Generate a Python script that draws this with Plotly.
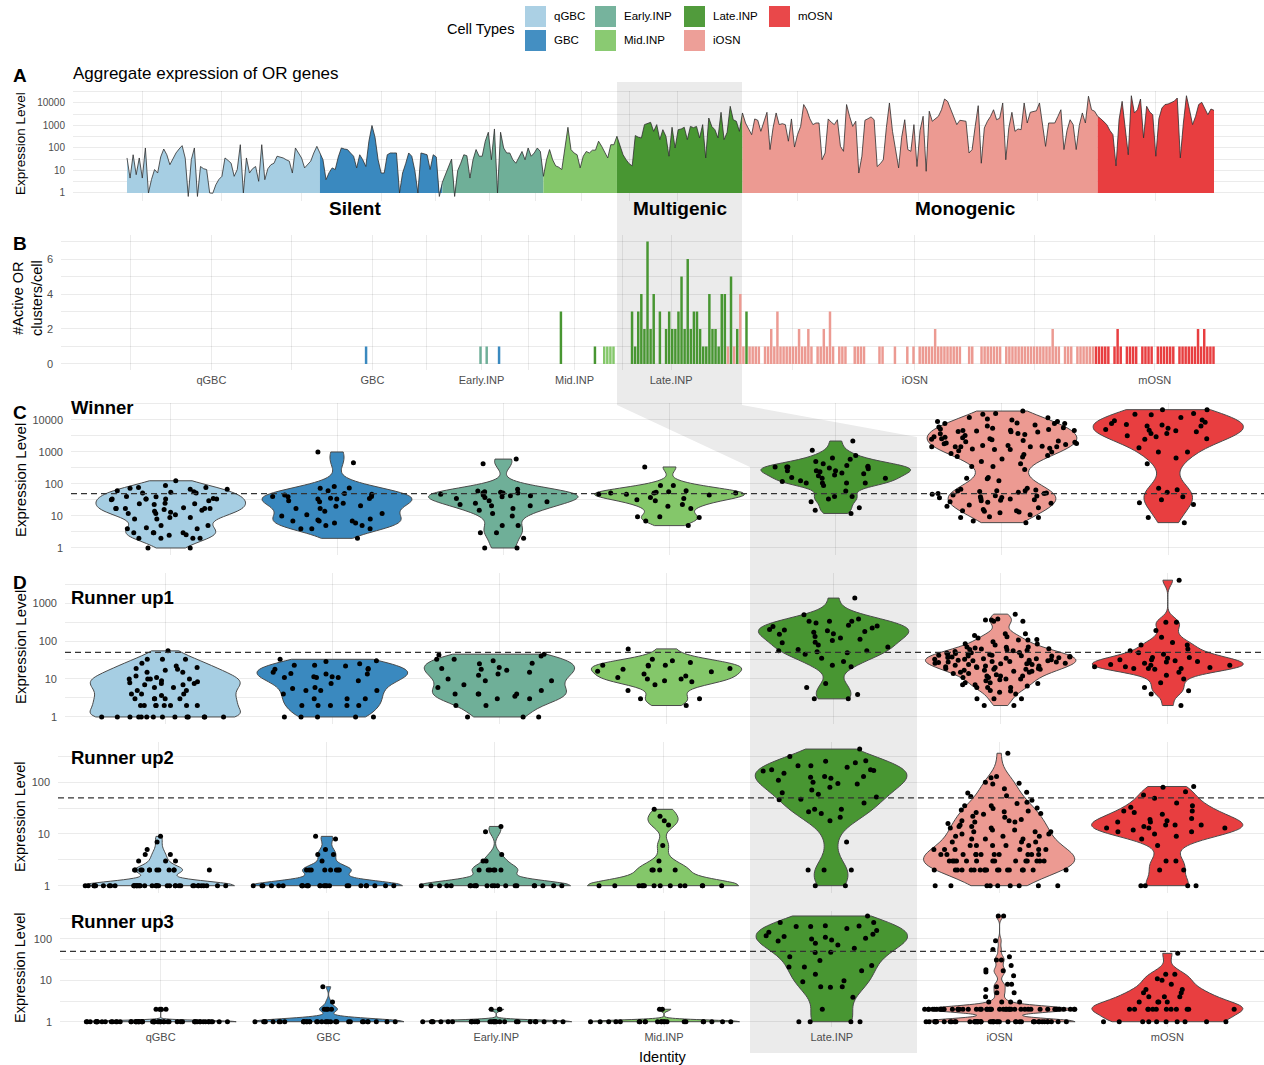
import numpy as np
import plotly.graph_objects as go

W, H = 1264, 1065
FONT = "Liberation Sans, Arial, Helvetica, sans-serif"
GRID = "rgba(0,0,0,0.08)"
TICK_GRAY = "#4D4D4D"
OUTLINE = "#4A4A4A"

CELL_TYPES = ["qGBC", "GBC", "Early.INP", "Mid.INP", "Late.INP", "iOSN", "mOSN"]
TYPE_COLORS = {
    "qGBC": "#A6CEE3", "GBC": "#3A89BF", "Early.INP": "#6FAF98", "Mid.INP": "#84C76A",
    "Late.INP": "#489632", "iOSN": "#EC9A92", "mOSN": "#E83E40",
}
THRESHOLD = 50

# ---------------- Panel A: aggregate OR expression per cell ----------------
agg_qgbc = [36, 4.6, 50, 6.5, 36, 4.6, 100, 1, 4, 11, 7.7, 40, 90, 50, 18, 35, 60, 90, 127, 36,
            0.7, 30, 100, 0.7, 15, 12, 11, 1, 0.97, 2.3, 4, 5.5, 36, 28, 21, 5.5, 11, 140, 1, 36,
            7.7, 12, 15, 3.3, 140, 3.9, 12, 18, 21, 43, 40, 36, 30, 26, 7.7, 100, 60, 36, 13, 18,
            26, 60, 118]
agg_gbc = [60, 30, 3.9, 8, 13, 11, 40, 100, 90, 85, 60, 43, 13, 50, 30, 15, 200, 1000, 300, 30,
           7.7, 7.7, 50, 60, 60, 60, 1, 7.7, 20, 60, 43, 10, 1, 60, 55, 50, 11, 50, 40, 0.7]
agg_early = [3, 6.5, 15, 32, 0.7, 10, 21, 50, 45, 4.6, 30, 85, 43, 43, 200, 500, 30, 700, 1, 500,
             100, 60, 60, 30, 21, 36, 70, 30, 100, 43, 60, 100, 70]
agg_mid = [5.5, 30, 85, 30, 16, 14, 11, 100, 830, 85, 60, 50, 13, 43, 70, 60, 80, 80, 200, 120,
           70, 36, 140, 140]
agg_late = [330, 120, 50, 30, 20, 16, 355, 300, 280, 1090, 1200, 1380, 550, 1090, 235, 650, 330, 43,
            830, 100, 650, 700, 830, 235, 910, 800, 910, 280, 1090, 36, 2150, 900, 650, 280, 3850,
            235, 500, 7100, 1800, 1540, 550]
agg_iosn = [3600, 1290, 700, 390, 1950, 1700, 550, 1500, 3850, 85,
            800, 3600, 1090, 1200, 1090, 200, 1950, 110, 400, 910,
            8500, 5000, 2000, 1090, 1290, 1290, 30, 60, 1950, 1400,
            1090, 1800, 118, 71, 8500, 2500, 910, 1540, 7.7, 43,
            1700, 2000, 2400, 1800, 15, 20, 30, 800, 10000, 550,
            80, 13, 300, 1800, 85, 71, 1090, 15, 600, 2560,
            9.2, 4300, 1540, 2000, 2560, 5000, 15000, 11800, 5000, 2560,
            1090, 1700, 1600, 1540, 60, 85, 900, 7600, 21, 780,
            1540, 2500, 5000, 1800, 2100, 10000, 30, 800, 3850, 550,
            700, 650, 10000, 1290, 3850, 4300, 4500, 10000, 800, 118,
            1290, 1290, 1290, 2500, 5000, 85, 600, 1800, 1090, 85,
            1000, 3600, 1290, 20000, 5000, 4300]
agg_mosn = [2560, 2000, 1540, 1090, 600, 390, 16, 1830, 11800, 800, 50, 21000, 3600, 5000, 15000,
            280, 7100, 4000, 3000, 43, 2000, 6000, 8500, 9000, 10000, 12000, 16600, 36, 1290, 21000,
            5000, 1090, 2560, 8500, 10700, 6000, 3000, 5400, 4700]

# ---------------- Panel B: active OR clusters per cell (trajectory order) ----------------
# each run: (cell type, one digit per cell = number of active clusters)
iosn_clusters = "".join([
    "1111", "0", "11", "2", "1", "3", "111111", "2", "11", "2", "1", "0", "11", "2", "1", "3",
    "1", "0", "111", "00", "1111", "0000", "11", "000", "1", "000", "1", "0", "1", "0", "1",
    "1111211111111", "00", "11", "00", "1111111", "0", "111111111111111211", "0", "111", "0",
    "111111",
])
cluster_runs = [
    ("qGBC", "000000000000000000000000000000000000000000000000000000000000000"),
    ("GBC", "000000000000000000100000000000000000000"),
    ("Early.INP", "0000000000000000101000"),
    ("GBC", "1"),
    ("Early.INP", "00000000000"),
    ("Mid.INP", "00000000"),
    ("Late.INP", "3"),
    ("Mid.INP", "0000000000"),
    ("Late.INP", "1"),
    ("Mid.INP", "001111"),
    ("Late.INP", "000003134272403023223526233211422144"),
    ("iOSN", "1"),
    ("Late.INP", "5"),
    ("iOSN", "1"),
    ("Late.INP", "2"),
    ("iOSN", "41"),
    ("Late.INP", "3"),
    ("iOSN", iosn_clusters),
    ("mOSN", "111110121011110111101111110111111212111"),
]

# ---------------- Panels C/D: winner and runner-up OR expression per cell ----------------
winner_qgbc = [52, 24, 13, 4.3, 3, 5, 32, 34, 35, 24, 17, 17, 2, 17, 89, 41, 55, 40, 5, 69,
               78, 62, 34, 1, 15, 9, 8, 16, 18, 17, 2, 73, 23, 34, 4, 34, 12, 126, 11, 17,
               30, 57, 8, 9, 52, 34, 2, 2.5, 78, 25, 14, 12, 2.6, 3, 4, 2, 69, 3, 3, 1]
winner_gbc = [1000, 75, 83, 36, 8, 5, 5, 41, 17, 4, 41, 35, 48, 62, 2, 7, 7, 12, 6, 17,
              6, 34, 28, 30, 7, 11, 21, 7.5, 4, 45, 73, 460, 4, 34, 10, 14, 25, 40, 50, 20]
winner_early = [430, 600, 69, 55, 43, 35, 21, 28, 5, 3, 12, 1, 1, 57, 52, 23, 25, 38, 5, 3,
                43, 21, 2, 52, 52, 17, 30, 45, 10, 40, 15, 48, 60]
winner_mid = [23, 30, 17, 9, 52, 55, 32, 57, 48, 5, 38, 7, 89, 9.5, 62, 89, 9.5, 48, 52, 340,
              52, 35, 45, 20]
winner_late = [2200, 1130, 590, 430, 340, 210, 190, 126, 150, 160, 260, 380, 260, 220, 107, 107,
               780, 340, 340, 650, 360, 150, 107, 340, 260, 315, 107, 41, 18, 12, 34, 28, 41, 89,
               500, 240, 180, 300, 120, 60, 15]
winner_iosn = [19000, 16000, 11700, 10000, 7800, 10700, 8900, 5700, 7800, 7800,
               4800, 4300, 5500, 5000, 4700, 4500, 4200, 4700, 3800, 2600,
               2600, 2300, 2200, 1830, 1450, 1450, 1450, 1450, 1200, 1600,
               1600, 1450, 1200, 1000, 3000, 3500, 2800, 2000, 1800, 6000,
               9000, 12000, 15000, 3300, 2400, 1300, 1100, 2100, 1700, 6500,
               8000, 5200, 3700, 2900, 2500, 1900, 1500, 1250, 4400, 7000,
               700, 780, 830, 720, 500, 430, 350, 350, 285, 160,
               150, 126, 145, 900, 600, 73, 62, 62, 43, 50,
               52, 69, 60, 30, 48, 31, 38, 34, 32, 14.5,
               6.2, 14.5, 18, 12.7, 13.4, 8.9, 9.5, 14, 40, 55,
               25, 20, 9, 7, 45, 65, 35, 28, 22, 16,
               11, 50, 58, 42, 37, 27]
winner_mosn = [16000, 14500, 21000, 21000, 9500, 6500, 10000, 7800, 6500, 5500, 3800, 4600, 2600,
               4300, 4800, 7000, 7200, 3000, 3800, 2500, 1350, 1000, 1000, 650, 430, 73, 66, 32,
               26, 23, 6.2, 40, 12000, 8500, 15000, 5000, 3200, 55, 9]

runner1_qgbc = [55, 26, 22, 15, 19, 10, 2, 2, 3, 1, 1, 1, 1, 1, 1, 1, 1, 1, 1, 1,
                6, 8.5, 2, 2, 20, 2, 4, 7, 4, 17, 15, 10, 7.6, 33, 11, 10, 10, 6, 9, 7,
                7.6, 33, 4, 3, 3, 18, 5, 3.7, 3, 2, 2, 33, 1, 1, 12, 5, 3, 1, 2, 8]
runner1_gbc = [29, 23, 13.5, 5, 2, 1, 11.5, 11, 2, 11.5, 11, 7.6, 5.6, 2, 1, 33, 18, 15, 3, 3,
               23, 13.5, 11, 5, 3, 1, 18, 22, 5, 2, 2, 19, 1, 1, 9, 25, 4, 14, 30, 6]
runner1_early = [26, 18, 17, 13.5, 33, 2, 3.5, 4, 1, 1, 1, 6, 5, 43, 40, 19, 12.6, 3, 4, 9,
                 33, 9, 4, 4, 25, 15, 7, 2, 20, 30, 10, 3, 45]
runner1_mid = [10, 10, 13.5, 8.5, 18, 23, 11, 2, 5, 23, 3, 27, 19, 33, 7, 15.5, 3, 23, 62, 22,
               12, 9, 30, 16]
runner1_late = [1350, 490, 330, 330, 380, 330, 240, 220, 178, 195, 185, 155, 170, 131, 103, 93,
                112, 79, 69, 55, 49, 52, 55, 29, 21, 23, 7.6, 6, 3.9, 3, 3, 260, 150, 90, 200,
                300, 60, 45, 120, 35, 250]
runner1_iosn = [510, 360, 330, 380, 330, 360, 155, 107, 120, 155,
                130, 110, 107, 83, 65, 59, 70, 62, 55, 68,
                60, 79, 69, 49, 45, 50, 42, 40, 35, 38,
                32, 28, 30, 36, 33, 34, 31, 29, 40, 37,
                45, 44, 41, 26, 27, 24, 21, 15, 18, 11,
                10, 22, 19, 15, 25, 18, 7.6, 12, 13, 20,
                16, 17, 30, 25, 14, 12, 11, 16, 19, 21,
                9, 7, 8, 9.5, 4.8, 6, 3, 6, 6, 4,
                3, 2, 2, 3, 7, 23, 26, 28, 31, 34,
                38, 42, 47, 53, 24, 20, 17, 14, 12, 10,
                27, 33, 39, 29, 22, 18, 5, 8, 4.5, 6.5,
                48, 57, 63, 85, 95, 140]
runner1_mosn = [4000, 310, 310, 190, 126, 91, 79, 79, 62, 49, 37, 29, 21, 24, 32, 19, 19, 19, 32,
                23, 12.6, 18, 37, 23, 21, 26, 20, 35, 6, 4.9, 4, 2, 15, 10, 45, 28, 8, 55, 30]

runner2_qgbc = [9, 7, 5, 3, 3, 3, 4, 4, 2, 2, 2, 2, 2, 2, 2, 2, 2, 2, 2, 2,
                1, 1, 1, 1, 1, 1, 1, 1, 1, 1, 1, 1, 1, 1, 1, 1, 1, 1, 1, 1,
                1, 1, 1, 1, 1, 1, 1, 1, 1, 1, 1, 1, 1, 1, 1, 1, 1, 1, 1, 1]
runner2_gbc = [9, 8, 4, 4, 3, 2, 2, 2, 2, 2, 2, 2, 5, 2,
               1, 1, 1, 1, 1, 1, 1, 1, 1, 1, 1, 1, 1, 1, 1, 1, 1, 1, 1, 1, 1, 1, 1, 1, 1, 1]
runner2_early = [14, 11, 3, 4, 2, 3, 2, 2, 2, 2, 2,
                 1, 1, 1, 1, 1, 1, 1, 1, 1, 1, 1, 1, 1, 1, 1, 1, 1, 1, 1, 1, 1, 1]
runner2_mid = [30, 22, 18, 15, 6, 3, 2, 2, 2, 2,
               1, 1, 1, 1, 1, 1, 1, 1, 1, 1, 1, 1, 1, 1]
runner2_late = [440, 315, 210, 210, 260, 255, 175, 170, 165, 175, 130, 125, 195, 130, 95, 93, 63,
                71, 59, 52, 47, 46, 30, 27, 25, 30, 21, 18, 7, 2, 2, 2, 1, 1, 150, 110, 80, 40,
                240, 100, 120]
runner2_iosn = [365, 123, 129, 100, 93, 96, 64, 75, 62, 53,
                39, 41, 32, 31, 29, 24, 25, 35, 21, 18,
                18, 17, 17, 14, 13, 11, 11, 12, 13, 8,
                9, 7, 5, 8, 7, 6, 9, 7, 6, 6,
                4, 4, 4, 4, 5, 5, 3, 4, 4, 3,
                3, 3, 3, 3, 3, 3, 4, 3, 2, 2,
                2, 2, 2, 2, 2, 2, 2, 2, 2, 2,
                2, 2, 2, 1, 1, 1, 1, 1, 1, 1,
                22, 26, 19, 16, 15, 10, 10, 9, 8, 6,
                5, 5, 4, 4, 3, 3, 3, 3, 45, 55,
                35, 28, 27, 12, 11, 14, 4, 4, 2, 2,
                3, 5, 6, 2, 1, 1]
runner2_mosn = [80, 83, 66, 49, 57, 28, 26, 28, 33, 19, 17, 12, 15, 13, 15, 17, 11, 13, 15, 13,
                10, 8, 6, 3, 3, 2, 2, 1, 1, 1, 1, 20, 24, 14, 18, 9, 35, 40, 11]

runner3_qgbc = [2, 2, 2, 2, 1, 1, 1, 1, 1, 1, 1, 1, 1, 1, 1, 1, 1, 1, 1, 1,
                1, 1, 1, 1, 1, 1, 1, 1, 1, 1, 1, 1, 1, 1, 1, 1, 1, 1, 1, 1,
                1, 1, 1, 1, 1, 1, 1, 1, 1, 1, 1, 1, 1, 1, 1, 1, 1, 1, 1, 1]
runner3_gbc = [7, 3, 2, 2, 2, 2, 1, 1, 1, 1, 1, 1, 1, 1, 1, 1, 1, 1, 1, 1,
               1, 1, 1, 1, 1, 1, 1, 1, 1, 1, 1, 1, 1, 1, 1, 1, 1, 1, 1, 1]
runner3_early = [2, 2, 2, 1, 1, 1, 1, 1, 1, 1, 1, 1, 1, 1, 1, 1, 1, 1, 1, 1,
                 1, 1, 1, 1, 1, 1, 1, 1, 1, 1, 1, 1, 1]
runner3_mid = [2, 2, 1, 1, 1, 1, 1, 1, 1, 1, 1, 1, 1, 1, 1, 1, 1, 1, 1, 1, 1, 1, 1, 1]
runner3_late = [360, 250, 200, 205, 210, 145, 110, 115, 104, 180, 95, 79, 72, 47, 48, 37, 23, 21,
                14, 21, 9.3, 9.8, 6.8, 7, 7, 3.9, 2, 1, 1, 1, 1, 160, 130, 90, 60, 200, 30, 17,
                250, 120, 100]
runner3_iosn = [360, 360, 91, 56, 37, 31, 31, 17, 18, 23, 16, 13, 8, 7, 4, 8, 5, 5, 6, 3,
                3, 3, 3, 2, 2, 2, 2, 2, 2, 2, 2, 2, 2, 2, 2, 2, 2, 2, 2, 2,
                2, 2, 2, 2, 2, 2, 2, 2, 2, 2, 2, 2, 2, 2, 2, 2, 2, 2, 2, 2,
                2, 2, 2, 2, 2, 2, 2, 2, 1, 1, 1, 1, 1, 1, 1, 1, 1, 1, 1, 1,
                1, 1, 1, 1, 1, 1, 1, 1, 1, 1, 1, 1, 1, 1, 1, 1, 1, 1, 1, 1,
                1, 1, 1, 1, 1, 1, 1, 1, 1, 1, 1, 1, 1, 1, 1, 1]
runner3_mosn = [45, 11, 14, 14, 6, 5, 6, 5, 4, 4, 3, 2, 2, 2, 2, 2, 2, 2, 1, 1,
                1, 1, 1, 1, 1, 2, 2, 2, 3, 3, 1, 1, 2, 4, 8, 10, 1, 2, 3]

# ---------------- helpers ----------------
def ydom(top, bottom):
    return [1 - bottom / H, 1 - top / H]


def nrd0(v):
    """Silverman's rule of thumb (R bw.nrd0)."""
    v = np.asarray(v, float)
    sd = v.std(ddof=1)
    q75, q25 = np.percentile(v, [75, 25])
    lo = min(sd, (q75 - q25) / 1.34)
    if lo <= 0:
        lo = sd if sd > 0 else (abs(v[0]) if v[0] != 0 else 1.0)
    return 0.9 * lo * len(v) ** -0.2


def ann(text, x, y, size, bold=False, xanchor="center", yanchor="middle", angle=0, color="#000000"):
    if bold:
        text = "<b>" + text + "</b>"
    return dict(text=text, x=x / W, y=1 - y / H, xref="paper", yref="paper", showarrow=False,
                xanchor=xanchor, yanchor=yanchor, textangle=angle,
                font=dict(family=FONT, size=size, color=color))


fig = go.Figure()

# ---------------- Panel A traces ----------------
agg_groups = [agg_qgbc, agg_gbc, agg_early, agg_mid, agg_late, agg_iosn, agg_mosn]
log_agg = [np.log10(np.asarray(g, float)) for g in agg_groups]
n_cells = sum(len(g) for g in agg_groups)
starts = np.cumsum([0] + [len(g) for g in agg_groups])
for k, t in enumerate(CELL_TYPES):
    xs = list(range(starts[k], starts[k + 1]))
    ys = list(np.clip(log_agg[k], 0, None))
    if k + 1 < len(CELL_TYPES):
        xs.append(starts[k + 1])
        ys.append(max(log_agg[k + 1][0], 0))
    fig.add_trace(go.Scatter(x=xs, y=ys, mode="lines", fill="tozeroy", fillcolor=TYPE_COLORS[t],
                             line=dict(width=0, color=TYPE_COLORS[t]), xaxis="x", yaxis="y",
                             showlegend=False, hoverinfo="skip"))
fig.add_trace(go.Scatter(x=list(range(n_cells)), y=np.concatenate(log_agg), mode="lines",
                         line=dict(color="#2E2E2E", width=0.8), xaxis="x", yaxis="y",
                         showlegend=False, hoverinfo="skip"))

# ---------------- Panel B traces ----------------
b_types, b_counts = [], []
for t, digits in cluster_runs:
    for ch in digits:
        b_types.append(t)
        b_counts.append(int(ch))
assert len(b_counts) == n_cells, (len(b_counts), n_cells)
for t in CELL_TYPES:
    sel = [i for i, bt in enumerate(b_types) if bt == t]
    fig.add_trace(go.Bar(x=sel, y=[b_counts[i] for i in sel], width=0.8,
                         marker=dict(color=TYPE_COLORS[t], line=dict(width=0)),
                         xaxis="x2", yaxis="y2", showlegend=False, hoverinfo="skip"))

tick_pos = [float(np.mean([i for i, bt in enumerate(b_types) if bt == t])) for t in CELL_TYPES]
mids = [(a + b) / 2 for a, b in zip(tick_pos[:-1], tick_pos[1:])]
minor_pos = [tick_pos[0] - (tick_pos[1] - tick_pos[0]) / 2] + mids + \
            [tick_pos[-1] + (tick_pos[-1] - tick_pos[-2]) / 2]

# ---------------- Violin panels ----------------
violin_panels = [
    [winner_qgbc, winner_gbc, winner_early, winner_mid, winner_late, winner_iosn, winner_mosn],
    [runner1_qgbc, runner1_gbc, runner1_early, runner1_mid, runner1_late, runner1_iosn, runner1_mosn],
    [runner2_qgbc, runner2_gbc, runner2_early, runner2_mid, runner2_late, runner2_iosn, runner2_mosn],
    [runner3_qgbc, runner3_gbc, runner3_early, runner3_mid, runner3_late, runner3_iosn, runner3_mosn],
]
for p, groups in enumerate(violin_panels):
    ax = str(p + 3)
    for t, vals in zip(CELL_TYPES, groups):
        lv = np.log10(np.asarray(vals, float))
        fig.add_trace(go.Violin(
            x=[t] * len(lv), y=lv, xaxis="x" + ax, yaxis="y" + ax,
            fillcolor=TYPE_COLORS[t], line=dict(color=OUTLINE, width=1), opacity=1,
            width=0.9, scalemode="width", spanmode="hard", bandwidth=nrd0(lv),
            points="all", pointpos=0, jitter=1.0,
            marker=dict(color="black", size=5, line=dict(width=0)),
            box=dict(visible=False), meanline=dict(visible=False),
            showlegend=False, hoverinfo="skip"))

# ---------------- axes ----------------
XR_CELLS = [-17.64, 371.33]
XR_CAT = [-0.6, 6.576]
log_ticks_txt = ["1", "10", "100", "1000", "10000"]
tickfont = dict(family=FONT, size=11, color=TICK_GRAY)

layout_axes = {}
# Panel A
layout_axes["xaxis"] = dict(domain=[73 / W, 1], anchor="y", range=XR_CELLS, tickvals=tick_pos,
                            showticklabels=False, ticks="", showgrid=True, gridcolor=GRID,
                            gridwidth=1, zeroline=False,
                            minor=dict(tickvals=minor_pos, showgrid=True, gridcolor=GRID, gridwidth=0.6))
layout_axes["yaxis"] = dict(domain=ydom(90.6, 201.3), anchor="x", range=[-0.37, 4.55],
                            tickvals=[0, 1, 2, 3, 4], ticktext=log_ticks_txt, ticks="",
                            tickfont=dict(family=FONT, size=10, color=TICK_GRAY),
                            ticklabelstandoff=7, showgrid=True, gridcolor=GRID, gridwidth=1,
                            zeroline=False,
                            minor=dict(tickvals=[0.5, 1.5, 2.5, 3.5, 4.5], showgrid=True,
                                       gridcolor=GRID, gridwidth=0.6))
# Panel B
layout_axes["xaxis2"] = dict(domain=[61 / W, 1], anchor="y2", range=XR_CELLS, tickvals=tick_pos,
                             ticktext=CELL_TYPES, ticks="", tickfont=tickfont, ticklabelstandoff=2,
                             showgrid=True, gridcolor=GRID, gridwidth=1, zeroline=False,
                             minor=dict(tickvals=minor_pos, showgrid=True, gridcolor=GRID, gridwidth=0.6))
layout_axes["yaxis2"] = dict(domain=ydom(235.4, 370.1), anchor="x2", range=[-0.35, 7.35],
                             tickvals=[0, 2, 4, 6], ticks="", tickfont=tickfont, ticklabelstandoff=7,
                             showgrid=True, gridcolor=GRID, gridwidth=1, zeroline=False,
                             minor=dict(tickvals=[1, 3, 5, 7], showgrid=True, gridcolor=GRID,
                                        gridwidth=0.6))
# Violin panels: (left px, top px, bottom px, y range, decades shown)
violin_axes = [
    (71, 402.7, 554.9, [-0.216, 4.54], 5),
    (65, 573.4, 723.8, [-0.18, 3.78], 4),
    (58, 742.2, 892.5, [-0.132, 2.776], 3),
    (60, 910.7, 1027.0, [-0.128, 2.684], 3),
]
for p, (left, top, bottom, yr, ndec) in enumerate(violin_axes):
    ax = str(p + 3)
    last = p == len(violin_axes) - 1
    layout_axes["xaxis" + ax] = dict(domain=[left / W, 1], anchor="y" + ax, type="category",
                                     categoryorder="array", categoryarray=CELL_TYPES, range=XR_CAT,
                                     showticklabels=last, ticks="", tickfont=tickfont,
                                     ticklabelstandoff=2, showgrid=True, gridcolor=GRID,
                                     gridwidth=1, zeroline=False)
    halves = [d + 0.5 for d in range(-1, ndec + 1) if yr[0] <= d + 0.5 <= yr[1]]
    layout_axes["yaxis" + ax] = dict(domain=ydom(top, bottom), anchor="x" + ax, range=yr,
                                     tickvals=list(range(ndec)), ticktext=log_ticks_txt[:ndec],
                                     ticks="", tickfont=tickfont, ticklabelstandoff=7,
                                     showgrid=True, gridcolor=GRID, gridwidth=1, zeroline=False,
                                     minor=dict(tickvals=halves, showgrid=True, gridcolor=GRID,
                                                gridwidth=0.6))

# ---------------- shapes ----------------
shapes = []
band = [(617, 82), (742, 82), (742, 405), (917, 437), (917, 1053), (750, 1053), (750, 467), (617, 405)]
band_path = "M " + " L ".join(f"{x / W:.5f},{1 - y / H:.5f}" for x, y in band) + " Z"
shapes.append(dict(type="path", path=band_path, xref="paper", yref="paper",
                   fillcolor="#EBEBEB", line=dict(width=0), layer="below"))
for p in range(len(violin_axes)):
    ax = str(p + 3)
    shapes.append(dict(type="line", xref="x" + ax + " domain", x0=0, x1=1, yref="y" + ax,
                       y0=np.log10(THRESHOLD), y1=np.log10(THRESHOLD),
                       line=dict(color="#333333", width=1.3, dash="6px,4px"), layer="above"))

# legend drawn as swatches + labels (column-major, two rows)
LEG_COL_X = [525, 595, 684, 769]
LEG_ROW_Y = [6, 30]
SW_W, SW_H = 21, 21
annotations = []
for i, t in enumerate(CELL_TYPES):
    cx, ry = LEG_COL_X[i // 2], LEG_ROW_Y[i % 2]
    shapes.append(dict(type="rect", xref="paper", yref="paper",
                       x0=cx / W, x1=(cx + SW_W) / W, y0=1 - (ry + SW_H) / H, y1=1 - ry / H,
                       fillcolor=TYPE_COLORS[t], line=dict(width=0), opacity=0.95))
    annotations.append(ann(t, cx + SW_W + 6, ry + SW_H / 2, 11.5, xanchor="left"))
annotations.append(ann("Cell Types", 481, 29, 14.5))

# ---------------- text ----------------
annotations += [
    ann("A", 20, 75, 19, bold=True), ann("B", 20, 243, 19, bold=True),
    ann("C", 20, 412, 19, bold=True), ann("D", 20, 582, 19, bold=True),
    ann("Aggregate expression of OR genes", 71, 74, 17, xanchor="left"),
    ann("Silent", 355, 208, 19, bold=True), ann("Multigenic", 680, 208, 19, bold=True),
    ann("Monogenic", 965, 208, 19, bold=True),
    ann("Winner", 69, 407, 18.5, bold=True, xanchor="left"),
    ann("Runner up1", 69, 597, 18.5, bold=True, xanchor="left"),
    ann("Runner up2", 69, 757, 18.5, bold=True, xanchor="left"),
    ann("Runner up3", 69, 921, 18.5, bold=True, xanchor="left"),
    ann("Expression Level", 20, 144, 13.5, angle=-90),
    ann("#Active OR<br>clusters/cell", 27, 298, 14.5, angle=-90),
    ann("Expression Level", 20, 480, 15, angle=-90),
    ann("Expression Level", 20, 647, 15, angle=-90),
    ann("Expression Level", 20, 817, 14.5, angle=-90),
    ann("Expression Level", 20, 968, 14.5, angle=-90),
    ann("Identity", 663, 1057, 14.5),
]

fig.update_layout(
    width=W, height=H, autosize=False,
    margin=dict(l=0, r=0, t=0, b=0),
    paper_bgcolor="white", plot_bgcolor="rgba(0,0,0,0)",
    font=dict(family=FONT, color="#000000"),
    barmode="overlay", violinmode="overlay", violingap=0,
    shapes=shapes, annotations=annotations, showlegend=False,
    **layout_axes,
)

fig.write_html("out.html")
